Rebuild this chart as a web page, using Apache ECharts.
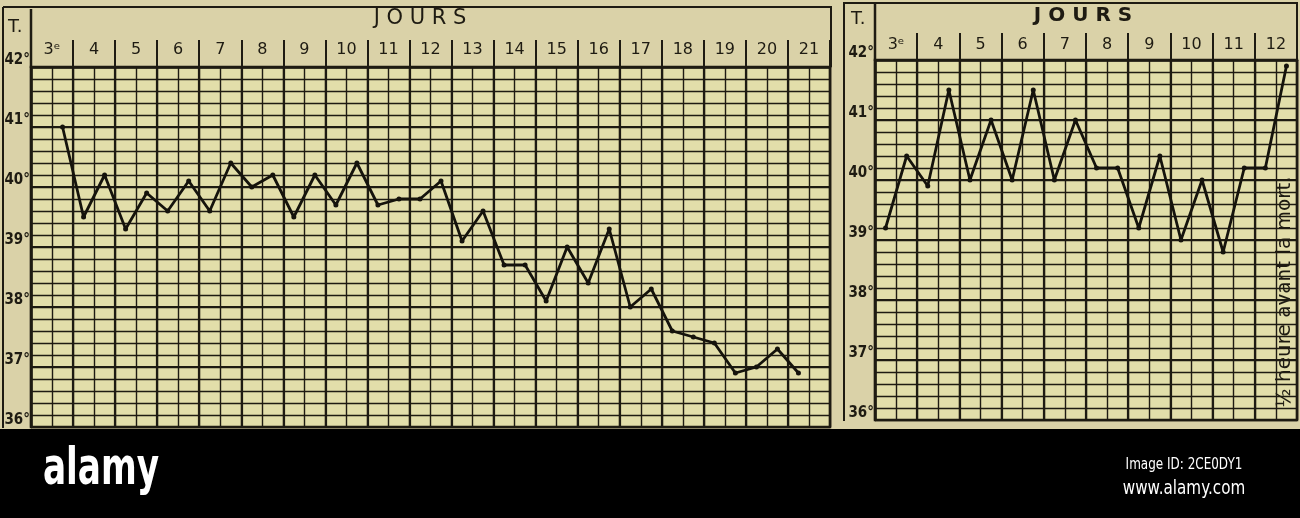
<!DOCTYPE html>
<html>
<head>
<meta charset="utf-8">
<title>Courbes de température</title>
<script src="https://cdn.jsdelivr.net/npm/echarts@6/dist/echarts.min.js"></script>
<style>
  html, body { margin: 0; padding: 0; background: #dad2a8; }
  #chart { width: 1300px; height: 518px; }
</style>
</head>
<body>
<div id="chart"></div>
<script>
// jours (en-tête) et températures matin / soir
const leftDays = ['3ᵉ', '4', '5', '6', '7', '8', '9', '10', '11', '12', '13', '14', '15', '16', '17', '18', '19', '20', '21'];
const rightDays = ['3ᵉ', '4', '5', '6', '7', '8', '9', '10', '11', '12'];

const leftTemps = [null, 41.0, 39.5, 40.2, 39.3, 39.9, 39.6, 40.1, 39.6, 40.4, 40.0, 40.2, 39.5, 40.2,
  39.7, 40.4, 39.7, 39.8, 39.8, 40.1, 39.1, 39.6, 38.7, 38.7, 38.1, 39.0, 38.4, 39.3, 38.0, 38.3,
  37.6, 37.5, 37.4, 36.9, 37.0, 37.3, 36.9, null];
const rightTemps = [39.2, 40.4, 39.9, 41.5, 40.0, 41.0, 40.0, 41.5, 40.0, 41.0, 40.2, 40.2, 39.2,
  40.4, 39.0, 40.0, 38.8, 40.2, 40.2, 41.9];

const tempMin = 36;
const tempMax = 42;

// une case par demi-journée (matin / soir)
const halfDays = days => days.flatMap(d => [d + ' m', d + ' s']);

const ink = '#1e1b12';
const paper = '#e2deaa';

let myChart = echarts.init(document.getElementById('chart'), null, {renderer: 'canvas'});

const fineX = (gridIndex, days) => ({
    type: 'category',
    gridIndex: gridIndex,
    data: halfDays(days),
    boundaryGap: true,
    axisLabel: {show: false},
    axisTick: {show: false},
    axisLine: {show: true, lineStyle: {color: ink, width: 2}},
    splitLine: {show: true, interval: 0, lineStyle: {color: ink, width: 1.4}}
});

const dayX = (gridIndex, days, fontSize, margin) => ({
    type: 'category',
    gridIndex: gridIndex,
    position: 'top',
    data: days,
    boundaryGap: true,
    axisLine: {show: true, lineStyle: {color: ink, width: 2.5}},
    axisTick: {show: true, interval: 0, length: 27, lineStyle: {color: ink, width: 2}},
    axisLabel: {
        interval: 0, margin: margin, color: ink, fontSize: fontSize,
        fontFamily: '"DejaVu Sans", sans-serif'
    },
    splitLine: {show: true, interval: 0, lineStyle: {color: ink, width: 2.2}}
});

const fineY = (gridIndex) => ({
    type: 'value',
    gridIndex: gridIndex,
    position: 'left',
    min: tempMin,
    max: tempMax,
    interval: 0.2,
    axisLabel: {show: false},
    axisTick: {show: false},
    axisLine: {show: true, lineStyle: {color: ink, width: 2.5}},
    splitLine: {show: true, lineStyle: {color: ink, width: 1.4}}
});

const degreeY = (gridIndex) => ({
    type: 'value',
    gridIndex: gridIndex,
    position: 'left',
    min: tempMin,
    max: tempMax,
    interval: 1,
    axisLine: {show: false},
    axisTick: {show: false},
    axisLabel: {
        margin: 1, color: ink, fontSize: 15, fontWeight: 'bold',
        fontFamily: '"DejaVu Sans Condensed", "Liberation Sans Narrow", sans-serif',
        verticalAlign: 'bottom', lineHeight: 13,
        formatter: v => v + '°'
    },
    splitLine: {show: true, lineStyle: {color: ink, width: 2.2}}
});

const tempLine = (xIdx, yIdx, data) => ({
    type: 'line',
    xAxisIndex: xIdx,
    yAxisIndex: yIdx,
    data: data,
    connectNulls: false,
    symbol: 'circle',
    symbolSize: 5,
    lineStyle: {color: '#15130c', width: 2.8},
    itemStyle: {color: '#15130c'},
    silent: true
});

const vline = (x, y1, y2, w) => ({
    type: 'line', silent: true,
    shape: {x1: x, y1: y1, x2: x, y2: y2},
    style: {stroke: ink, lineWidth: w || 2}
});
const hline = (y, x1, x2, w) => ({
    type: 'line', silent: true,
    shape: {x1: x1, y1: y, x2: x2, y2: y},
    style: {stroke: ink, lineWidth: w || 2}
});

let option = {
    animation: false,
    backgroundColor: '#dad2a8',
    grid: [
        {left: 31, top: 67, width: 799, height: 360, show: true, backgroundColor: paper,
            borderColor: ink, borderWidth: 2.5, containLabel: false, outerBoundsMode: 'none'},
        {left: 875, top: 60, width: 422, height: 360, show: true, backgroundColor: paper,
            borderColor: ink, borderWidth: 2.5, containLabel: false, outerBoundsMode: 'none'}
    ],
    xAxis: [
        fineX(0, leftDays),
        dayX(0, leftDays, 16, 9),
        fineX(1, rightDays),
        dayX(1, rightDays, 16, 7)
    ],
    yAxis: [
        fineY(0),
        degreeY(0),
        fineY(1),
        degreeY(1)
    ],
    series: [
        tempLine(0, 0, leftTemps),
        tempLine(2, 2, rightTemps)
    ],
    graphic: [
        // cadres des deux feuilles
        hline(7, 3, 832), vline(3, 7, 428), vline(831, 7, 67), vline(31, 9, 67, 2.5),
        hline(3, 843, 1298), vline(844, 3, 421), vline(875, 3, 60, 2.5), vline(1297, 3, 60),
        {type: 'text', left: 8, top: 18, silent: true,
            style: {text: 'T.', fill: ink, font: '18px "DejaVu Sans", sans-serif'}},
        {type: 'text', left: 851, top: 10, silent: true,
            style: {text: 'T.', fill: ink, font: '18px "DejaVu Sans", sans-serif'}},
        {type: 'text', x: 420, y: 19, silent: true,
            style: {text: 'J O U R S', fill: ink, align: 'center', verticalAlign: 'middle',
                font: '21px "DejaVu Sans", sans-serif'}},
        {type: 'text', x: 1083, y: 16, silent: true,
            style: {text: 'J O U R S', fill: ink, align: 'center', verticalAlign: 'middle',
                font: 'bold 20px "DejaVu Sans", sans-serif'}},
        {type: 'text', x: 1285, y: 292, rotation: Math.PI / 2, silent: true,
            style: {text: '½ heure avant la mort.', fill: ink, align: 'center', verticalAlign: 'middle',
                font: '20px "DejaVu Sans", sans-serif'}},
        // bandeau noir du bas
        {type: 'rect', silent: true, shape: {x: 0, y: 429, width: 1300, height: 89}, style: {fill: '#000'}},
        {type: 'text', x: 101, y: 470, scaleX: 0.66, silent: true,
            style: {text: 'alamy', fill: '#fff', align: 'center', verticalAlign: 'middle',
                font: 'bold 52px "DejaVu Sans", sans-serif'}},
        {type: 'text', x: 1184, y: 465, scaleX: 0.8, silent: true,
            style: {text: 'Image ID: 2CE0DY1', fill: '#fff', align: 'center', verticalAlign: 'middle',
                font: '15px "DejaVu Sans", sans-serif'}},
        {type: 'text', x: 1184, y: 489, scaleX: 0.8, silent: true,
            style: {text: 'www.alamy.com', fill: '#fff', align: 'center', verticalAlign: 'middle',
                font: '19px "DejaVu Sans", sans-serif'}}
    ]
};

myChart.setOption(option);
window.onresize = () => {
    myChart.resize()
}
</script>
</body>
</html>
